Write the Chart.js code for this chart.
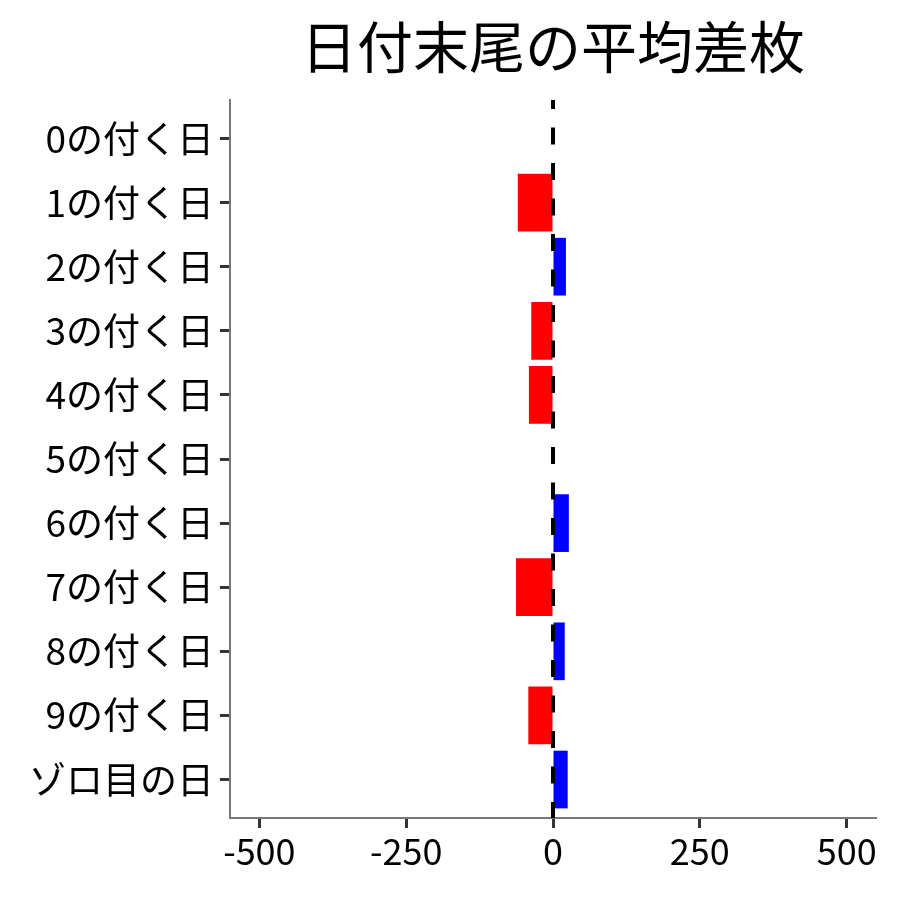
<!DOCTYPE html>
<html>
<head>
<meta charset="utf-8">
<script src="https://cdn.jsdelivr.net/npm/chart.js@4.4.1/dist/chart.umd.min.js"></script>
<style>
html,body{margin:0;padding:0;background:#fff;}
#wrap{width:900px;height:900px;}
</style>
</head>
<body>
<div id="wrap"><canvas id="c" width="900" height="900"></canvas></div>
<script>
const title = "日付末尾の平均差枚";
const categories = ["0の付く日","1の付く日","2の付く日","3の付く日","4の付く日","5の付く日","6の付く日","7の付く日","8の付く日","9の付く日","ゾロ目の日"];
const values = [0, -60, 22, -37, -41, 0, 27, -63, 20, -42, 25];
const xTicks = [-500, -250, 0, 250, 500];

const FONT = '"Noto Sans CJK JP", "Noto Sans", sans-serif';

const titlePlugin = {
  id: 'titlePlugin',
  afterDraw(chart) {
    const {ctx, chartArea} = chart;
    ctx.save();
    ctx.fillStyle = '#000';
    ctx.font = '56px ' + FONT;
    ctx.textAlign = 'center';
    ctx.textBaseline = 'middle';
    ctx.fillText(title, (chartArea.left + chartArea.right) / 2, 47);
    ctx.restore();
  }
};

const zeroLine = {
  id: 'zeroLine',
  afterDatasetsDraw(chart) {
    const {ctx, chartArea, scales} = chart;
    const x = scales.x.getPixelForValue(0);
    ctx.save();
    ctx.strokeStyle = '#000';
    ctx.lineWidth = 4;
    ctx.setLineDash([17, 18.5]);
    ctx.lineDashOffset = 8;
    ctx.beginPath();
    ctx.moveTo(x, chartArea.top);
    ctx.lineTo(x, chartArea.bottom);
    ctx.stroke();
    ctx.restore();
  }
};

new Chart(document.getElementById('c'), {
  type: 'bar',
  data: {
    datasets: [{
      data: values.map((v, i) => ({x: v, y: i})),
      backgroundColor: ctx => (ctx.raw && ctx.raw.x < 0) ? '#ff0000' : '#0000ff',
      borderWidth: 0,
      barPercentage: 0.9,
      categoryPercentage: 1.0
    }]
  },
  options: {
    indexAxis: 'y',
    responsive: false,
    animation: false,
    devicePixelRatio: 1,
    layout: { padding: { top: 100, right: 24, left: 0, bottom: 0 } },
    plugins: { legend: { display: false }, tooltip: { enabled: false }, title: { display: false } },
    scales: {
      x: {
        type: 'linear',
        min: -550, max: 550,
        offset: false,
        afterBuildTicks: s => { s.ticks = xTicks.map(v => ({value: v})); },
        afterFit: s => { s.height = 82; },
        grid: { offset: false, drawOnChartArea: false, drawTicks: true, tickLength: 10, tickColor: '#333', tickWidth: 3 },
        border: { display: true, color: '#777', width: 2 },
        ticks: { color: '#000', font: { family: FONT, size: 36 }, padding: 2, maxRotation: 0, autoSkip: false }
      },
      y: {
        type: 'linear',
        min: -0.6, max: 10.6,
        reverse: true,
        offset: false,
        afterBuildTicks: s => { s.ticks = categories.map((_, i) => ({value: i})); },
        afterFit: s => { s.width = 230; },
        grid: { offset: false, drawOnChartArea: false, drawTicks: true, tickLength: 10, tickColor: '#333', tickWidth: 3 },
        border: { display: true, color: '#777', width: 2 },
        ticks: { color: '#000', font: { family: FONT, size: 37 }, padding: 6, autoSkip: false,
                 callback: v => categories[v] }
      }
    }
  },
  plugins: [titlePlugin, zeroLine]
});
</script>
</body>
</html>
